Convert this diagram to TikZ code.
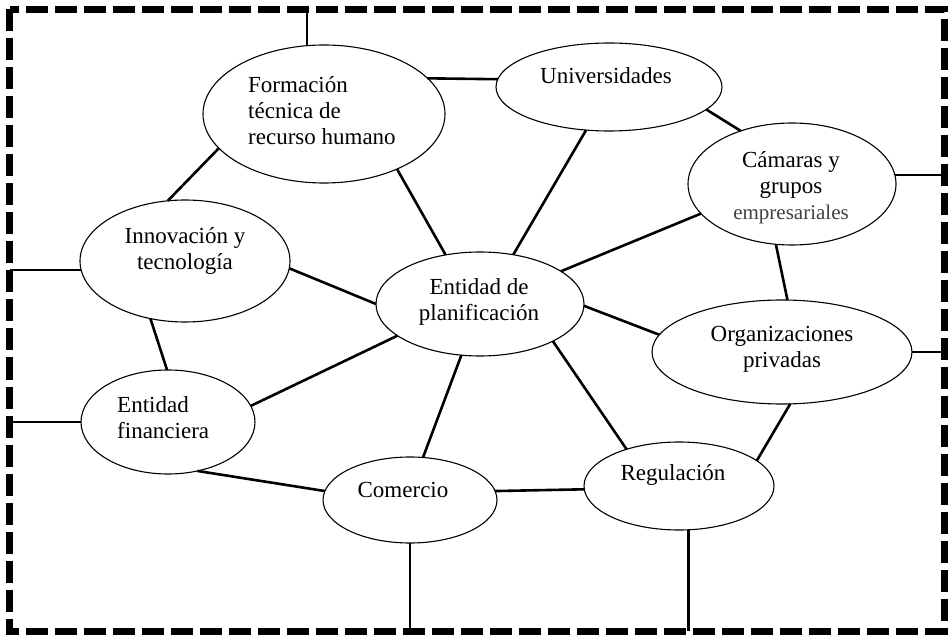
\documentclass[tikz,border=0pt]{standalone}
\usepackage{fontspec}
\setmainfont{Liberation Serif}
\usepackage{tikz}
\usetikzlibrary{shapes.geometric}

\begin{document}
\begin{tikzpicture}[x=1pt, y=-1pt,
        oval/.style={ellipse, draw, line width=1.1pt, inner sep=0pt, outer sep=0pt},
        lbl/.style={inner sep=0pt, font=\fontsize{23}{26}\selectfont},
        link/.style={line width=2.6pt}]
        \useasboundingbox (0,0) rectangle (948,636);
        \coordinate (nw) at (9.5,9.5);
        \coordinate (se) at (944,631);
        \draw [line width=7pt, dash pattern=on 22pt off 7pt] (nw) rectangle (se);
        % ovals
        \node (form) at (324,114) [oval, minimum width=242pt, minimum height=138pt] {};
        \node (univ) at (609,87) [oval, minimum width=226pt, minimum height=88pt] {};
        \node (cam) at (792,184) [oval, minimum width=208pt, minimum height=122pt] {};
        \node (innov) at (185,261) [oval, minimum width=210pt, minimum height=122pt] {};
        \node (plan) at (480,304) [oval, minimum width=208pt, minimum height=104pt] {};
        \node (org) at (782,352) [oval, minimum width=260pt, minimum height=104pt] {};
        \node (fin) at (168,422) [oval, minimum width=174pt, minimum height=104pt] {};
        \node (com) at (410,500) [oval, minimum width=174pt, minimum height=86pt] {};
        \node (reg) at (679,486) [oval, minimum width=190pt, minimum height=88pt] {};
        % texts
        \node (form-t) at (248,111) [lbl, anchor=west, align=left] {Formación\\técnica de\\recurso humano};
        \node (univ-t) at (606,76) [lbl] {Universidades};
        \node (cam-t) at (791,188) [lbl, align=center] {Cámaras y\\grupos\\{\fontsize{21}{26}\selectfont\color{black!75}empresariales}};
        \node (innov-t) at (185,251) [lbl, align=center] {Innovación y\\tecnología};
        \node (plan-t) at (479,302) [lbl, align=center] {Entidad de\\planificación};
        \node (org-t) at (782,349) [lbl, align=center] {Organizaciones\\privadas};
        \node (fin-t) at (117,418) [lbl, anchor=west, align=left] {Entidad\\financiera};
        \node (com-t) at (403,490) [lbl] {Comercio};
        \node (reg-t) at (673,475) [lbl] {Regulación};
        % links between ovals
        \draw [link] (form.19) edge (univ.176);
        \draw [link] (form.198) edge (innov.106);
        \draw [link] (form.323) edge (plan.125);
        \draw [link] (univ.242) edge (plan.56);
        \draw [link] (univ.347) edge (cam.134);
        \draw [link] (cam.198) edge (plan.22);
        \draw [link] (cam.255) edge (org.84);
        \draw [link] (innov.356) edge (plan.180);
        \draw [link] (innov.239) edge (fin.91);
        \draw [link] (plan.201) edge (fin.11);
        \draw [link] (plan.359) edge (org.172);
        \draw [link] (plan.250) edge (com.73);
        \draw [link] (plan.333) edge (reg.145);
        \draw [link] (fin.301) edge (com.174);
        \draw [link] (com.6) edge (reg.182);
        \draw [link] (org.279) edge (reg.18);
        % links to the frame
        \draw [link] (form.104) -- (form.104 |- nw);
        \draw [link] (cam.5) -- (cam.5 -| se);
        \draw [link] (org.east) -- (org.east -| se);
        \draw [link] (innov.185) -- (innov.185 -| nw);
        \draw [link] (fin.west) -- (fin.west -| nw);
        \draw [link] (com.south) -- (com.south |- se);
        \draw [link] (reg.282) -- (reg.282 |- se);
\end{tikzpicture}
\end{document}
